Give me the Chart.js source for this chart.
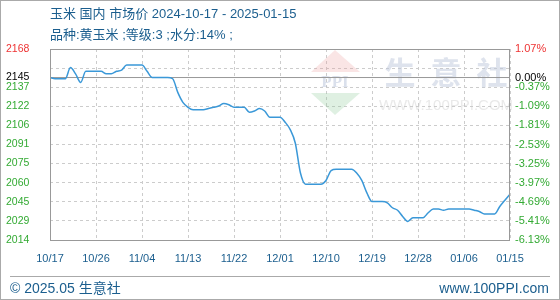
<!DOCTYPE html>
<html lang="zh-CN">
<head>
<meta charset="UTF-8">
<title>玉米 国内 市场价</title>
<script src="https://cdn.jsdelivr.net/npm/chart.js"></script>
<style>
    body { margin: 0; background: #fff; }
    .wrap {
        position: relative;
        width: 560px;
        height: 300px;
        overflow: hidden;
        font-family: 'Liberation Sans', 'Noto Sans CJK SC', sans-serif;
        color: #1b5e8e;
    }
    .wrap canvas { position: absolute; left: 0; top: 0; }
    .frame {
        position: absolute; left: 0; top: 0; right: 0; bottom: 0;
        border: 1px solid #aaa;
        pointer-events: none;
    }
    .title, .sub, .foot-l, .foot-r { position: absolute; white-space: nowrap; }
    .title { left: 50px; top: 6px; font-size: 13px; line-height: 16px; }
    .sub { left: 50px; top: 27px; font-size: 13px; line-height: 16px; }
    .rule { position: absolute; left: 10px; right: 10px; top: 276px; border-top: 1px solid #aaa; }
    .foot-l { left: 10px; top: 280px; font-size: 14px; line-height: 17px; }
    .foot-r { right: 11px; top: 280px; font-size: 14px; line-height: 17px; }
</style>
</head>
<body>
<div class="wrap">
    <canvas id="chart" width="560" height="300"></canvas>
    <div class="title">玉米 国内 市场价 2024-10-17 - 2025-01-15</div>
    <div class="sub">品种:黄玉米 ;等级:3 ;水分:14% ;</div>
    <div class="rule"></div>
    <div class="foot-l">© 2025.05 生意社</div>
    <div class="foot-r">www.100PPI.com</div>
    <div class="frame"></div>
</div>

<script>
// 每日价格 (10/17 起, 共 91 天)
const prices = [
    2145, 2144, 2144, 2144, 2153, 2148, 2141, 2150, 2150, 2150,
    2150, 2148, 2148, 2150, 2151, 2155, 2155, 2155, 2155, 2150,
    2145, 2145, 2145, 2145, 2144, 2133, 2125, 2121, 2119, 2119,
    2119, 2120, 2121, 2122, 2124, 2123, 2121, 2121, 2121, 2117,
    2118, 2120, 2118, 2113, 2113, 2113, 2109, 2103, 2092, 2068,
    2059, 2059, 2059, 2059, 2062, 2070, 2071, 2071, 2071, 2071,
    2068, 2062, 2052, 2045, 2045, 2045, 2044, 2040, 2038, 2033,
    2029, 2032, 2032, 2032, 2036, 2039, 2039, 2038, 2039, 2039,
    2039, 2039, 2039, 2038, 2037, 2035, 2035, 2035, 2041, 2046,
    2051
];
const baseValue = 2145;

const xTickLabels = ['10/17', '10/26', '11/04', '11/13', '11/22', '12/01', '12/10', '12/19', '12/28', '01/06', '01/15'];
const yTickValues = [2014, 2029.4, 2044.8, 2060.2, 2075.6, 2091, 2106.4, 2121.8, 2137.2, 2145, 2152.6, 2168];
const yTickLabels = ['2014', '2029', '2045', '2060', '2075', '2091', '2106', '2122', '2137', '2145', '', '2168'];
const pctTickLabels = ['-6.13%', '-5.41%', '-4.69%', '-3.97%', '-3.25%', '-2.53%', '-1.81%', '-1.09%', '-0.37%', '0.00%', '', '1.07%'];

const GREEN = '#33aa33', RED = '#ee3333', BLUE = '#1b5e8e';

function tickColor(ctx) {
    const v = ctx.tick ? ctx.tick.value : null;
    if (v === 2168) return RED;
    if (v === baseValue) return '#000';
    return GREEN;
}

// 水印 + 外框
const decor = {
    id: 'decor',
    beforeDatasetsDraw(chart) {
        const c = chart.ctx;
        c.save();
        // logo
        c.fillStyle = 'rgba(235,150,150,0.25)';
        c.beginPath(); c.moveTo(335, 50); c.lineTo(311, 72); c.lineTo(360, 72); c.closePath(); c.fill();
        c.fillStyle = 'rgba(140,200,150,0.28)';
        c.beginPath(); c.moveTo(311, 93); c.lineTo(360, 93); c.lineTo(335, 115); c.closePath(); c.fill();
        c.fillStyle = 'rgba(150,165,200,0.35)';
        c.font = 'bold 17px "Liberation Serif", serif';
        c.textAlign = 'center'; c.textBaseline = 'middle';
        c.fillText('PPI', 335, 83);
        // 生意社
        c.fillStyle = 'rgba(190,200,220,0.5)';
        c.font = 'bold 31px "Noto Sans CJK SC", sans-serif';
        c.fillText('生', 400, 72);
        c.fillText('意', 446, 72);
        c.fillText('社', 492, 72);
        c.fillStyle = 'rgba(200,200,200,0.4)';
        c.font = '15px "Liberation Sans", sans-serif';
        c.fillText('WWW.100PPI.COM', 446, 106);
        c.restore();
    },
    afterDraw(chart) {
        const a = chart.chartArea, c = chart.ctx;
        c.save();
        c.strokeStyle = '#999';
        c.lineWidth = 1;
        c.strokeRect(a.left + 0.5, a.top + 0.5, a.right - a.left - 1, a.bottom - a.top);
        c.restore();
    }
};

new Chart(document.getElementById('chart').getContext('2d'), {
    type: 'line',
    data: {
        datasets: [
            {
                data: prices.map((v, i) => ({ x: i, y: v })),
                borderColor: '#3a98d8',
                borderWidth: 1.5,
                pointRadius: 0,
                cubicInterpolationMode: 'monotone',
                yAxisID: 'y',
                order: 1
            },
            {
                data: [{ x: 0, y: baseValue }, { x: prices.length - 1, y: baseValue }],
                borderColor: '#999',
                borderWidth: 1,
                pointRadius: 0,
                yAxisID: 'y',
                order: 2
            }
        ]
    },
    options: {
        responsive: false,
        animation: false,
        events: [],
        layout: { padding: { top: 49, left: 6, right: 0, bottom: 0 } },
        plugins: { legend: { display: false }, tooltip: { enabled: false } },
        scales: {
            x: {
                type: 'linear',
                min: 0,
                max: prices.length - 1,
                afterFit: s => { s.height = 60; },
                afterBuildTicks: s => { s.ticks = xTickLabels.map((_, i) => ({ value: i * 9 })); },
                ticks: {
                    autoSkip: false,
                    maxRotation: 0,
                    padding: 12,
                    color: BLUE,
                    font: { family: 'Liberation Sans', size: 11 },
                    callback: (v, i) => xTickLabels[i]
                },
                grid: { color: '#cccccc', drawTicks: false },
                border: { display: false, dash: [3, 3] }
            },
            y: {
                position: 'left',
                min: 2014,
                max: 2168,
                afterFit: s => { s.width = 44; },
                afterBuildTicks: s => { s.ticks = yTickValues.map(v => ({ value: v })); },
                ticks: {
                    autoSkip: false,
                    crossAlign: 'far',
                    padding: 0,
                    color: tickColor,
                    font: { family: 'Liberation Sans', size: 10.5 },
                    callback: (v, i) => yTickLabels[i]
                },
                grid: {
                    drawTicks: false,
                    color: ctx => (ctx.tick && ctx.tick.value === baseValue) ? 'rgba(0,0,0,0)' : '#cccccc'
                },
                border: { display: false, dash: [3, 3] }
            },
            y2: {
                position: 'right',
                min: 2014,
                max: 2168,
                afterFit: s => { s.width = 50; },
                afterBuildTicks: s => { s.ticks = yTickValues.map(v => ({ value: v })); },
                ticks: {
                    autoSkip: false,
                    padding: 5,
                    color: tickColor,
                    font: { family: 'Liberation Sans', size: 11 },
                    callback: (v, i) => pctTickLabels[i]
                },
                grid: { display: false, drawTicks: false },
                border: { display: false }
            }
        }
    },
    plugins: [decor]
});
</script>
</body>
</html>
